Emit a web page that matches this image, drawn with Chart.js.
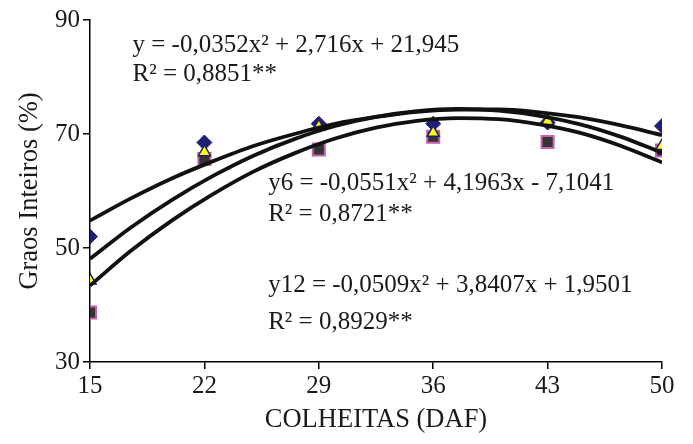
<!DOCTYPE html>
<html>
<head>
<meta charset="utf-8">
<script src="https://cdn.jsdelivr.net/npm/chart.js@4.4.0/dist/chart.umd.min.js"></script>
<style>
  html, body { margin: 0; padding: 0; background: #fff; }
  #wrap { width: 693px; height: 444px; position: relative; }
</style>
</head>
<body>
<div id="wrap"><canvas id="grainChart"></canvas></div>
<script>
// harvest dates (days after flowering) and y tick values
const harvests = [15, 22, 29, 36, 43, 50];
const yTicks = [30, 50, 70, 90];

const diamondVals = [52.0, 68.5, 71.8, 71.8, 72.0, 71.4];
const triangleVals = [44.3, 66.8, 71.3, 70.2, 72.3, 67.9];
const squareVals = [38.7, 65.6, 67.3, 69.5, 68.6, 67.1];

// fitted curves, sampled along x
const fitX = [15, 17.5, 20, 22.5, 25, 27.5, 30, 32.5, 35, 37.5, 40, 42.5, 45, 47.5, 50];
const fitTop = [54.8, 58.7, 62.2, 65.2, 67.9, 70.0, 71.8, 73.0, 73.9, 74.3, 74.3, 73.8, 72.9, 71.5, 69.8];
const fitMid = [48.1, 53.6, 58.4, 62.6, 66.2, 69.1, 71.4, 73.0, 74.0, 74.4, 74.1, 73.2, 71.7, 69.5, 66.7];
const fitLow = [43.4, 49.5, 54.8, 59.4, 63.4, 66.6, 69.2, 71.1, 72.3, 72.8, 72.6, 71.7, 70.2, 67.9, 65.0];

const equationLabels = [
  { text: 'y = -0,0352x² + 2,716x + 21,945', x: 17.6, y: 85.6 },
  { text: 'R² = 0,8851**', x: 17.6, y: 80.5 },
  { text: 'y6 = -0,0551x² + 4,1963x - 7,1041', x: 25.9, y: 61.3 },
  { text: 'R² = 0,8721**', x: 25.9, y: 55.9 },
  { text: 'y12 = -0,0509x² + 3,8407x + 1,9501', x: 25.9, y: 43.5 },
  { text: 'R² = 0,8929**', x: 25.9, y: 37.0 }
];

const serif = '"Liberation Serif", "Times New Roman", Times, serif';
const ink = '#1a1a1a';
const navy = '#1f1f73';
const fontSize = 25;
const titleSize = 26.5;

const pts = (xs, ys) => xs.map((x, i) => ({ x: x, y: ys[i] }));

function fitLine(vals) {
  return {
    data: pts(fitX, vals),
    showLine: true,
    borderColor: '#111',
    borderWidth: 3.8,
    pointRadius: 0,
    tension: 0.4,
    cubicInterpolationMode: 'monotone',
    order: 0
  };
}

const equationPlugin = {
  id: 'equations',
  afterDatasetsDraw(chart) {
    const { ctx, scales: { x, y } } = chart;
    ctx.save();
    ctx.font = fontSize + 'px ' + serif;
    ctx.fillStyle = ink;
    ctx.textBaseline = 'middle';
    equationLabels.forEach(l => {
      ctx.fillText(l.text, x.getPixelForValue(l.x), y.getPixelForValue(l.y));
    });
    ctx.restore();
  }
};

function draw() {
  new Chart(document.getElementById('grainChart'), {
    type: 'scatter',
    data: {
      datasets: [
        fitLine(fitTop),
        fitLine(fitMid),
        fitLine(fitLow),
        {
          data: pts(harvests, triangleVals),
          pointStyle: 'triangle',
          pointRadius: 7,
          backgroundColor: '#ffff00',
          borderColor: navy,
          borderWidth: 1.5,
          order: 1
        },
        {
          data: pts(harvests, diamondVals),
          pointStyle: 'rectRot',
          pointRadius: 7.5,
          backgroundColor: navy,
          borderColor: navy,
          borderWidth: 1,
          order: 2
        },
        {
          data: pts(harvests, squareVals),
          pointStyle: 'rect',
          pointRadius: 8.5,
          backgroundColor: '#333333',
          borderColor: '#c25fae',
          borderWidth: 2,
          order: 3
        }
      ]
    },
    options: {
      responsive: true,
      maintainAspectRatio: false,
      animation: false,
      layout: { padding: { left: 0, right: 31, top: 20, bottom: 0 } },
      plugins: {
        legend: { display: false },
        tooltip: { enabled: false }
      },
      scales: {
        x: {
          type: 'linear',
          min: 15,
          max: 50,
          afterBuildTicks: s => { s.ticks = harvests.map(v => ({ value: v })); },
          afterFit: s => { s.height = 82; },
          grid: { drawOnChartArea: false, tickLength: 7, color: '#000', lineWidth: 1.5 },
          border: { color: '#000', width: 1.5 },
          ticks: { font: { family: serif, size: fontSize }, color: ink, padding: 2, maxRotation: 0, autoSkip: false },
          title: { display: true, text: 'COLHEITAS (DAF)', font: { family: serif, size: titleSize }, color: ink, padding: { top: 0, bottom: 8 } }
        },
        y: {
          min: 30,
          max: 90,
          afterBuildTicks: s => { s.ticks = yTicks.map(v => ({ value: v })); },
          afterFit: s => { s.width = 90; },
          grid: { drawOnChartArea: false, tickLength: 7, color: '#000', lineWidth: 1.5 },
          border: { color: '#000', width: 1.5 },
          ticks: { font: { family: serif, size: fontSize }, color: ink, padding: 3 },
          title: { display: true, text: 'Graos Inteiros (%)', font: { family: serif, size: titleSize }, color: ink, padding: { top: 14, bottom: 0 } }
        }
      }
    },
    plugins: [equationPlugin]
  });
}

document.fonts.load(fontSize + 'px "Liberation Serif"').then(draw, draw);
</script>
</body>
</html>
